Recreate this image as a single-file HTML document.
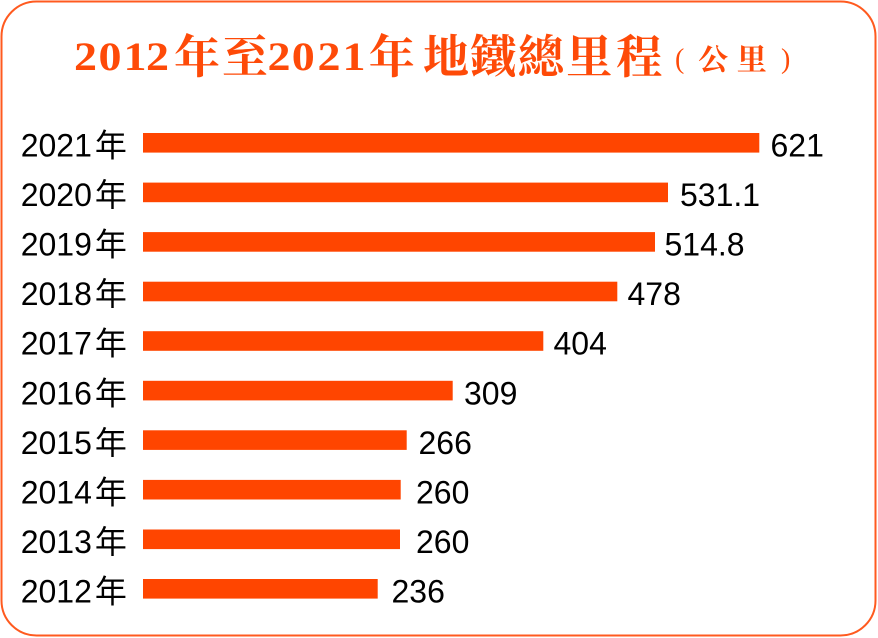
<!DOCTYPE html>
<html>
<head>
<meta charset="utf-8">
<style>
html,body{margin:0;padding:0;background:#fff;}
svg{display:block;}
.lab{font-family:"Liberation Sans","Noto Sans CJK TC","Noto Sans CJK SC",sans-serif;font-size:32px;fill:#000;}
.cjk{font-family:"Noto Sans CJK TC","Noto Sans CJK SC",sans-serif;}
.td{font-family:"Liberation Serif",serif;font-weight:bold;font-size:40px;fill:#fe4a08;}
.tc{font-family:"Noto Serif CJK SC","Noto Serif CJK TC",serif;font-weight:bold;font-size:46px;fill:#fe4a08;}
.ts{font-family:"Noto Serif CJK SC",serif;font-weight:bold;font-size:30px;fill:#fe4a08;}
.tp{font-family:"Liberation Serif",serif;font-size:28px;fill:#fe4a08;}
</style>
</head>
<body>
<svg width="878" height="638" viewBox="0 0 878 638" xmlns="http://www.w3.org/2000/svg">
<rect x="1.5" y="1.5" width="874" height="634" rx="35" ry="35" fill="#fff" stroke="#ff5a1f" stroke-width="2"/>

<!-- Title -->
<g text-anchor="middle">
<text class="td" transform="translate(85.5,70) scale(1.15,1)">2</text>
<text class="td" transform="translate(110,70) scale(1.15,1)">0</text>
<text class="td" transform="translate(135,70) scale(1.15,1)">1</text>
<text class="td" transform="translate(157.5,70) scale(1.15,1)">2</text>
<text class="tc" x="197" y="73">年</text>
<text class="tc" x="245" y="73">至</text>
<text class="td" transform="translate(279,70) scale(1.15,1)">2</text>
<text class="td" transform="translate(303.3,70) scale(1.15,1)">0</text>
<text class="td" transform="translate(329,70) scale(1.15,1)">2</text>
<text class="td" transform="translate(354,70) scale(1.15,1)">1</text>
<text class="tc" x="391.7" y="73">年</text>
<text class="tc" x="446" y="73">地</text>
<text class="tc" x="493.3" y="73">鐵</text>
<text class="tc" x="540.8" y="73">總</text>
<text class="tc" x="589.2" y="73">里</text>
<text class="tc" x="639.2" y="73">程</text>
<text class="ts" x="713.3" y="70">公</text>
<text class="ts" x="751.7" y="70">里</text>
</g>
<text class="tp" x="675" y="68">(</text>
<text class="tp" x="781" y="68">)</text>

<!-- Bars -->
<g fill="#ff4500">
<rect x="143" y="133" width="616.3" height="19.6"/>
<rect x="143" y="182.6" width="525" height="19.6"/>
<rect x="143" y="232.1" width="512" height="19.6"/>
<rect x="143" y="281.7" width="474.3" height="19.6"/>
<rect x="143" y="331.2" width="400.3" height="19.6"/>
<rect x="143" y="380.8" width="309.7" height="19.6"/>
<rect x="143" y="430.3" width="263.7" height="19.6"/>
<rect x="143" y="479.9" width="257.7" height="19.6"/>
<rect x="143" y="529.5" width="257" height="19.6"/>
<rect x="143" y="579" width="234.7" height="19.6"/>
</g>

<!-- Year labels -->
<g class="lab">
<text x="20.7" y="156.5">2021<tspan class="cjk" dx="3">年</tspan></text>
<text x="20.7" y="206.1">2020<tspan class="cjk" dx="3">年</tspan></text>
<text x="20.7" y="255.6">2019<tspan class="cjk" dx="3">年</tspan></text>
<text x="20.7" y="305.2">2018<tspan class="cjk" dx="3">年</tspan></text>
<text x="20.7" y="354.7">2017<tspan class="cjk" dx="3">年</tspan></text>
<text x="20.7" y="404.3">2016<tspan class="cjk" dx="3">年</tspan></text>
<text x="20.7" y="453.8">2015<tspan class="cjk" dx="3">年</tspan></text>
<text x="20.7" y="503.4">2014<tspan class="cjk" dx="3">年</tspan></text>
<text x="20.7" y="553">2013<tspan class="cjk" dx="3">年</tspan></text>
<text x="20.7" y="602.5">2012<tspan class="cjk" dx="3">年</tspan></text>
</g>

<!-- Value labels -->
<g class="lab">
<text x="770.5" y="156.5">621</text>
<text x="680" y="206.1">531.1</text>
<text x="664.5" y="255.6">514.8</text>
<text x="627.5" y="305.2">478</text>
<text x="553.5" y="354.7">404</text>
<text x="464" y="404.3">309</text>
<text x="418.5" y="453.8">266</text>
<text x="416" y="503.4">260</text>
<text x="416" y="553">260</text>
<text x="391.5" y="602.5">236</text>
</g>
</svg>
</body>
</html>
